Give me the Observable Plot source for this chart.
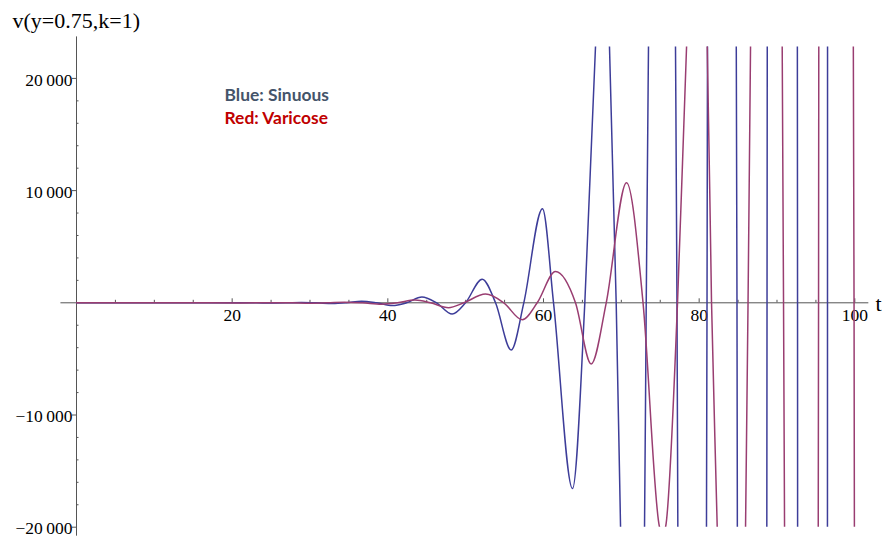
<!DOCTYPE html>
<html>
<head>
<meta charset="utf-8">
<script src="https://cdn.jsdelivr.net/npm/d3@7"></script>
<script src="https://cdn.jsdelivr.net/npm/@observablehq/plot@0.6"></script>
<style>
  html, body { margin: 0; padding: 0; background: #fff; }
  #chart svg { display: block; }
</style>
</head>
<body>
<div id="chart"></div>
<script>
// ---- Data ----
// Sinuous (blue) : time t and value v
const tBlue = [0, 17, 21.14, 23.13, 25.18, 26.98, 28.88, 30.84, 32.89, 34.69, 36.62, 38.55, 40.60, 42.40, 44.38, 46.26, 48.27, 49.98, 52.13, 53.84, 55.85, 57.47, 59.87, 61.29, 63.73, 65.31, 66.68, 67.52, 68.48, 69.34, 69.90, 71.25, 72.98, 73.20, 73.49, 75.16, 76.96, 77.15, 77.26, 79.02, 80.94, 81.01, 81.07, 82.87, 84.86, 86.73, 88.72, 90.71, 92.64, 94.57, 96.49, 98.42, 100];
const vBlue = [0, 0, 8, 0, -16, 0, 32, 0, -65, 0, 135, 0, -250, 0, 520, 0, -1006, 0, 2109, 0, -4210, 0, 8393, 0, -16554, 0, 22800, 33000, 22800, 0, -20000, -65000, -20000, 0, 22800, 128000, 22800, 0, -20000, -255000, -20000, 0, 22800, 500000, 0, -990000, 0, 1950000, 0, -3900000, 0, 7600000, 2500000];

// Varicose (red)
const tRed = [0, 17, 21.07, 23.26, 25.44, 27.75, 30.07, 32.25, 34.43, 36.75, 39.19, 41.24, 43.49, 45.48, 47.80, 49.76, 52.55, 54.90, 57.27, 59.19, 61.54, 64.11, 66.13, 68.06, 70.67, 72.79, 74.91, 75.29, 75.68, 77.22, 78.38, 79.53, 81.04, 81.59, 82.32, 83.90, 85.96, 86.28, 86.60, 88.53, 90.67, 90.84, 90.97, 93.09, 95.30, 95.34, 95.37, 97.65, 99.90, 100];
const vRed = [0, 0, -8, 0, 15, 0, -30, 0, 60, 0, -120, 0, 240, 0, -430, 0, 774, 0, -1513, 0, 2786, 0, -5456, 0, 10707, 0, -20000, -20600, -20000, 0, 22800, 42000, 22800, 0, -20000, -77000, -20000, 0, 22800, 150000, 22800, 0, -20000, -290000, -20000, 0, 22800, 560000, 0, -45000];

// Ticks and labels
const xMajorTicks = [20, 40, 60, 80, 100];
const xMinorTicks = [5, 10, 15, 25, 30, 35, 45, 50, 55, 65, 70, 75, 85, 90, 95];
const yMajorTicks = [-20000, -10000, 10000, 20000];
const yTickLabels = ["\u221220\u2009000", "\u221210\u2009000", "10\u2009000", "20\u2009000"];
const yMinorTicks = [-18000, -16000, -14000, -12000, -8000, -6000, -4000, -2000, 2000, 4000, 6000, 8000, 12000, 14000, 16000, 18000];
const titleText = ["v(y=0.75,k=1)"];
const xAxisLabel = ["t"];
const legendLabels = ["Blue: Sinuous", "Red: Varicose"];
const legendColors = ["#44546a", "#c00000"];

// ---- Build tables ----
const blue = tBlue.map((t, i) => ({t, v: vBlue[i]}));
const red = tRed.map((t, i) => ({t, v: vRed[i]}));

const axisColor = "#555";
const serif = "Liberation Serif, Times New Roman, serif";

const chart = Plot.plot({
  width: 885,
  height: 540,
  marginLeft: 76,
  marginRight: 19,
  marginTop: 46.5,
  marginBottom: 13.3,
  x: {domain: [0, 101.5], axis: null},
  y: {domain: [-20000, 22800], axis: null},
  style: {background: "white", color: "black", fontFamily: serif, overflow: "visible"},
  marks: [
    // axes lines
    Plot.ruleY([0], {x1: -2, x2: 101.8, stroke: axisColor, strokeWidth: 1}),
    Plot.ruleX([0], {y1: -20800, y2: 23700, stroke: axisColor, strokeWidth: 1}),
    // ticks
    Plot.ruleX(xMajorTicks, {x: d => d, y1: 0, y2: 0, insetTop: -4, stroke: axisColor}),
    Plot.ruleX(xMinorTicks, {x: d => d, y1: 0, y2: 0, insetTop: -2.5, stroke: axisColor}),
    Plot.ruleY(yMajorTicks, {y: d => d, x1: 0, x2: 0, insetLeft: -4, stroke: axisColor}),
    Plot.ruleY(yMinorTicks, {y: d => d, x1: 0, x2: 0, insetRight: -2.5, stroke: axisColor}),
    // tick labels
    Plot.text(xMajorTicks, {x: d => d, y: 0, text: d => String(d), dy: 13, fontSize: 17.5, fontFamily: serif, fill: "black"}),
    Plot.text(yMajorTicks, {x: 0, y: d => d, text: (d, i) => yTickLabels[i], textAnchor: "end", dx: -4, dy: 1.5, fontSize: 17.5, fontFamily: serif, fill: "black"}),
    Plot.text(xAxisLabel, {x: 101.5, y: 0, text: d => d, textAnchor: "start", dx: 9, dy: 1.5, fontSize: 22, fontFamily: serif, fill: "black"}),
    // curves
    Plot.line(blue, {x: "t", y: "v", stroke: "#3d3d99", strokeWidth: 1.5, curve: "monotone-x", clip: true}),
    Plot.line(red, {x: "t", y: "v", stroke: "#993d71", strokeWidth: 1.5, curve: "monotone-x", clip: true}),
    // title
    Plot.text(titleText, {frameAnchor: "top-left", text: d => d, dx: -64, dy: -19.5, lineAnchor: "bottom", textAnchor: "start", fontSize: 22, fontFamily: serif, fill: "black"}),
    // legend
    Plot.text([legendLabels[0]], {frameAnchor: "top-left", text: d => d, dx: 148, dy: 53.5, lineAnchor: "bottom", textAnchor: "start", fontSize: 17.4, fontWeight: "bold", fontFamily: "Lato, Open Sans, sans-serif", fill: legendColors[0]}),
    Plot.text([legendLabels[1]], {frameAnchor: "top-left", text: d => d, dx: 148, dy: 76.8, lineAnchor: "bottom", textAnchor: "start", fontSize: 17.4, fontWeight: "bold", fontFamily: "Lato, Open Sans, sans-serif", fill: legendColors[1]})
  ]
});

document.getElementById("chart").appendChild(chart);
</script>
</body>
</html>
